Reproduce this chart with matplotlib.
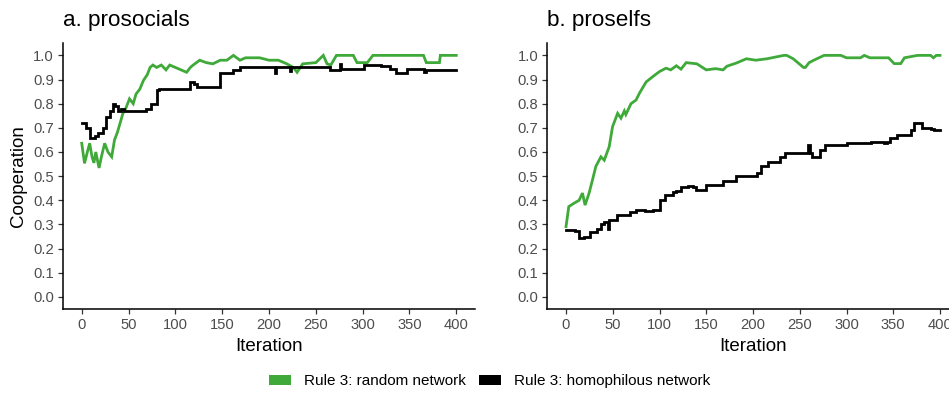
import matplotlib
matplotlib.use("Agg")
import matplotlib.pyplot as plt
from matplotlib.patches import Patch

plt.rcParams['font.family'] = ['Liberation Sans', 'DejaVu Sans']

GREEN = '#3FAA3A'
BLACK = '#000000'

# ---- data: panel a (prosocials) ----
pro_rand_it = [0, 3, 6, 8.5, 11, 13, 15, 18.5, 21, 24.5, 28, 32, 35, 38, 41, 44, 47, 51, 55, 58,
               62, 66, 70, 73, 76, 80, 85, 90, 94, 100, 106, 112, 116, 119, 126, 133, 140, 148,
               155, 162, 169, 175, 190, 200, 210, 219, 226, 230, 236, 250, 258, 262, 266, 272,
               290, 294, 305, 311, 365, 368, 382, 383, 400]
pro_rand_val = [0.636, 0.553, 0.60, 0.636, 0.58, 0.555, 0.60, 0.534, 0.58, 0.636, 0.60, 0.58, 0.65,
                0.68, 0.72, 0.76, 0.78, 0.82, 0.80, 0.84, 0.86, 0.897, 0.92, 0.95, 0.96, 0.95,
                0.96, 0.94, 0.96, 0.95, 0.94, 0.93, 0.95, 0.96, 0.98, 0.97, 0.965, 0.98, 0.98,
                1.0, 0.98, 0.99, 0.99, 0.98, 0.98, 0.965, 0.95, 0.93, 0.965, 0.97, 1.0, 0.965,
                0.96, 1.0, 1.0, 0.97, 0.97, 1.0, 1.0, 0.97, 0.97, 1.0, 1.0]

pro_homo_it = [0, 3, 5, 8.5, 14, 17.5, 23, 26, 30, 33.5, 36, 39, 42, 45, 66, 69, 74.5, 80, 82,
               112, 115.5, 120, 123, 144, 147.6, 162, 169, 205, 206, 207.5, 221, 222, 223.5,
               265, 276, 277, 301, 315, 320, 329, 336, 344, 347, 362, 365, 368, 400]
pro_homo_val = [0.72, 0.72, 0.70, 0.66, 0.665, 0.68, 0.70, 0.746, 0.77, 0.80, 0.79, 0.77, 0.78,
                0.77, 0.77, 0.78, 0.80, 0.856, 0.86, 0.86, 0.89, 0.88, 0.87, 0.87, 0.925, 0.94,
                0.95, 0.95, 0.925, 0.95, 0.95, 0.935, 0.95, 0.94, 0.965, 0.945, 0.96, 0.96,
                0.955, 0.945, 0.925, 0.925, 0.945, 0.945, 0.93, 0.94, 0.94]

# ---- data: panel b (proselfs) ----
self_rand_it = [0, 3, 8.6, 14, 17.6, 20.4, 24.7, 28.3, 31.9, 37.3, 40.9, 46.2, 49.8, 55.2, 58.8,
                62.4, 64, 69.5, 74.9, 78.5, 85.7, 92.8, 100, 107, 112, 118, 123, 128.5, 140,
                150, 160, 168, 172, 182, 193, 203, 215, 233, 236, 243, 254, 256, 260, 265,
                276, 294, 300, 315, 319, 325, 345, 351, 358, 362, 376, 390, 393, 396, 400]
self_rand_val = [0.291, 0.374, 0.388, 0.40, 0.43, 0.38, 0.43, 0.484, 0.54, 0.58, 0.566, 0.622,
                 0.705, 0.76, 0.74, 0.77, 0.755, 0.80, 0.815, 0.843, 0.89, 0.912, 0.933, 0.947,
                 0.94, 0.957, 0.943, 0.97, 0.965, 0.94, 0.945, 0.94, 0.955, 0.968, 0.986, 0.98,
                 0.986, 1.0, 1.0, 0.986, 0.95, 0.95, 0.97, 0.98, 1.0, 1.0, 0.99, 0.99, 1.0,
                 0.99, 0.99, 0.966, 0.966, 0.99, 1.0, 1.0, 0.99, 1.0, 1.0]

self_homo_it = [0, 10, 14, 19, 26, 33, 37, 41, 43, 44.5, 46, 55, 61, 68, 75, 84, 93, 100, 106,
                114, 118, 123, 131, 136, 139, 143, 150, 165, 168, 178, 182, 200, 204, 209, 216,
                224, 229, 234, 258, 259, 261, 263, 268, 272, 277, 297, 301, 322, 326, 336, 340,
                343, 347, 354, 365, 369, 372, 378, 381, 390, 394, 400]
self_homo_val = [0.275, 0.273, 0.244, 0.25, 0.27, 0.28, 0.30, 0.31, 0.31, 0.28, 0.32, 0.34,
                 0.34, 0.35, 0.36, 0.355, 0.36, 0.40, 0.42, 0.434, 0.44, 0.457, 0.46, 0.455,
                 0.444, 0.444, 0.465, 0.465, 0.48, 0.48, 0.5, 0.5, 0.513, 0.54, 0.56, 0.56,
                 0.58, 0.595, 0.595, 0.63, 0.595, 0.58, 0.58, 0.61, 0.63, 0.63, 0.636, 0.636,
                 0.643, 0.643, 0.636, 0.643, 0.657, 0.67, 0.67, 0.69, 0.72, 0.72, 0.70, 0.695,
                 0.69, 0.69]

titles = ['a. prosocials', 'b. proselfs']
legend_labels = ['Rule 3: random network', 'Rule 3: homophilous network']
x_ticks = [0, 50, 100, 150, 200, 250, 300, 350, 400]
y_ticks = [0.0, 0.1, 0.2, 0.3, 0.4, 0.5, 0.6, 0.7, 0.8, 0.9, 1.0]

W, H = 949, 394
fig = plt.figure(figsize=(W / 100, H / 100), dpi=100)

def fx(px):
    return px / W

def fy(py):
    return 1 - py / H

ax_bottom = fy(309)
ax_top = fy(43.3)
axes_pos = [(63, 475), (547.3, 958.7)]
series = [((pro_rand_it, pro_rand_val), (pro_homo_it, pro_homo_val)),
          ((self_rand_it, self_rand_val), (self_homo_it, self_homo_val))]

for i, ((l, r), (rand, homo)) in enumerate(zip(axes_pos, series)):
    ax = fig.add_axes([fx(l), ax_bottom, fx(r) - fx(l), ax_top - ax_bottom])
    ax.plot(rand[0], rand[1], color=GREEN, lw=2.0, solid_joinstyle='miter')
    ax.plot(homo[0], homo[1], color=BLACK, lw=2.0, drawstyle='steps-post',
            solid_joinstyle='miter')
    ax.set_xlim(-20, 420)
    ax.set_ylim(-0.05, 1.05)
    ax.set_xticks(x_ticks)
    ax.set_yticks(y_ticks)
    ax.set_yticklabels([f'{v:.1f}' for v in y_ticks])
    for s in ['top', 'right']:
        ax.spines[s].set_visible(False)
    for s in ['left', 'bottom']:
        ax.spines[s].set_linewidth(1.1)
        ax.spines[s].set_color('black')
    ax.tick_params(axis='both', length=3.5, width=0.9, color='#333333',
                   labelcolor='#4D4D4D', labelsize=10.6, pad=3)
    ax.patch.set_alpha(0)
    fig.text(fx(l), fy(26), titles[i], fontsize=16.2, ha='left', va='baseline')
    fig.text(fx((l + r) / 2), fy(351), 'Iteration', fontsize=13.5, ha='center', va='baseline')

fig.text(fx(19), fy(176), 'Cooperation', fontsize=13.5, rotation=90, ha='center', va='center')

handles = [Patch(facecolor=GREEN, edgecolor='none'), Patch(facecolor=BLACK, edgecolor='none')]
fig.legend(handles, legend_labels, loc='center', bbox_to_anchor=(fx(490), fy(381)), ncol=2,
           frameon=False, fontsize=11, handlelength=1.45, handleheight=0.65,
           handletextpad=0.85, columnspacing=0.85, borderaxespad=0, borderpad=0)

fig.savefig('out.png', dpi=100)
